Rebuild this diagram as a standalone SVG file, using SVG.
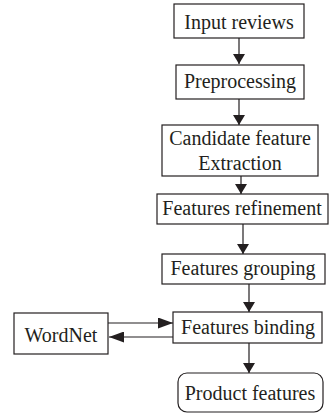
<svg xmlns="http://www.w3.org/2000/svg" width="331" height="415" viewBox="0 0 331 415">
<style>
.box{fill:#fff;stroke:#231f20;stroke-width:1.2}
.t{font-family:"Liberation Serif","Times New Roman",serif;font-size:20px;fill:#231f20;text-anchor:middle}
.c{stroke:#231f20;stroke-width:1.2;fill:none}
.v{marker-end:url(#av)}
.h{marker-end:url(#ah)}
</style>
<defs>
<marker id="av" markerUnits="userSpaceOnUse" markerWidth="10" markerHeight="12" refX="10" refY="6" orient="auto"><path d="M0,0 L10,6 L0,12 z" fill="#231f20"/></marker>
<marker id="ah" markerUnits="userSpaceOnUse" markerWidth="15" markerHeight="11" refX="15" refY="5.5" orient="auto"><path d="M0,0 L15,5.5 L0,11 z" fill="#231f20"/></marker>
</defs>
<g id="connectors">
<line class="c v" x1="239" y1="38" x2="239" y2="64"/>
<line class="c v" x1="239" y1="99" x2="239" y2="125"/>
<line class="c v" x1="241" y1="176" x2="241" y2="194"/>
<line class="c v" x1="243" y1="224" x2="243" y2="254"/>
<line class="c v" x1="249" y1="284" x2="249" y2="312"/>
<line class="c h" x1="108" y1="323" x2="173" y2="323"/>
<line class="c h" x1="173" y1="337" x2="109" y2="337"/>
<line class="c v" x1="249" y1="343" x2="249" y2="373"/>
</g>
<g id="input-reviews"><rect class="box" x="174" y="4" width="130" height="34"/><text class="t" x="239" y="29">Input reviews</text></g>
<g id="preprocessing"><rect class="box" x="176" y="65" width="128" height="34"/><text class="t" x="240" y="88">Preprocessing</text></g>
<g id="candidate"><rect class="box" x="162" y="125" width="156" height="51"/><text class="t" x="240" y="145">Candidate feature</text><text class="t" x="240" y="170">Extraction</text></g>
<g id="refinement"><rect class="box" x="157" y="194" width="171" height="30"/><text class="t" x="242" y="215">Features refinement</text></g>
<g id="grouping"><rect class="box" x="162" y="254" width="163" height="30"/><text class="t" x="243" y="275">Features grouping</text></g>
<g id="binding"><rect class="box" x="173" y="312" width="149" height="31"/><text class="t" x="248" y="334">Features binding</text></g>
<g id="wordnet"><rect class="box" x="14" y="313" width="94" height="41"/><text class="t" x="61" y="342">WordNet</text></g>
<g id="product"><rect class="box" x="178" y="373" width="145" height="39" rx="9" ry="9"/><text class="t" x="250" y="400">Product features</text></g>
</svg>
